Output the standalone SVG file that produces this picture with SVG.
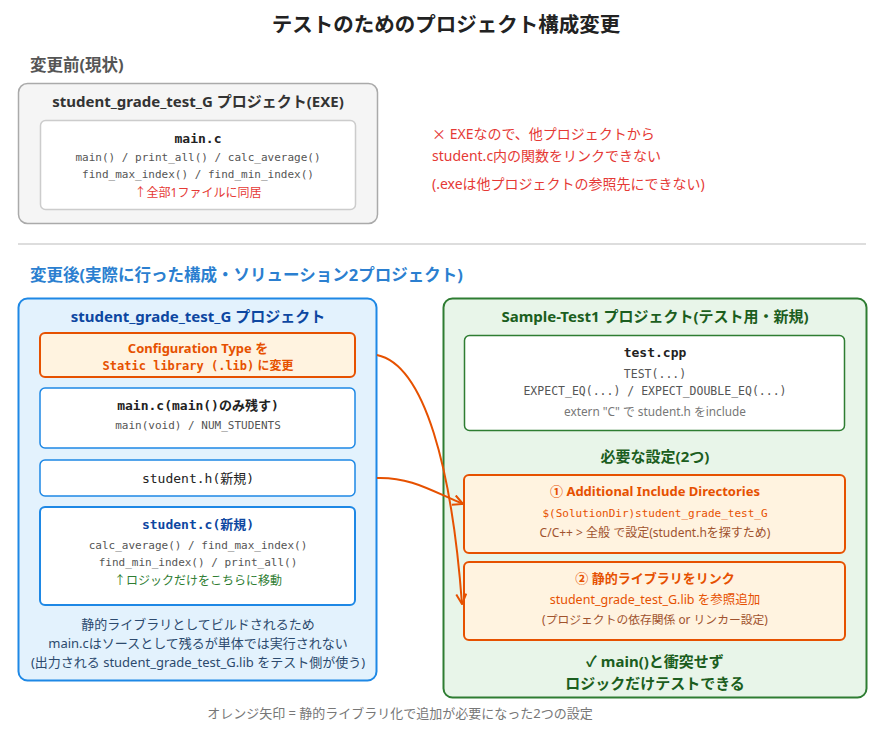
<svg xmlns="http://www.w3.org/2000/svg" width="892" height="732" viewBox="0 0 892 732">
<style>
text{font-family:"Noto Sans","Noto Sans CJK JP",sans-serif;}
.m{font-family:"DejaVu Sans Mono","Liberation Mono","Noto Sans CJK JP",monospace;}
.cjk{font-family:"Noto Sans CJK JP",sans-serif;}
.c{text-anchor:middle;}
.b{font-weight:bold;}
.title{font-size:20.5px;font-weight:bold;fill:#222;}
.sec{font-size:16.5px;font-weight:bold;}
.h{font-size:15px;font-weight:bold;}
.s11{font-size:11px;}
.s12{font-size:12px;}
.s13{font-size:13px;}
.s14{font-size:14px;}
.gray{fill:#555;}
.or{fill:#e65100;}
.brn{fill:#a0522d;}
.gr{fill:#1b5e20;}
.bl{fill:#0d47a1;}
.red{fill:#e53935;}
.wbox{fill:#fff;}
.obox{fill:#fff3e0;stroke:#e65100;stroke-width:2;}
.conn{fill:none;stroke:#e65100;stroke-width:2;}
</style>
<defs>
<marker id="ah" viewBox="0 0 12 12" refX="11" refY="6" markerWidth="12" markerHeight="12" markerUnits="userSpaceOnUse" orient="auto">
<path d="M1,1 L11,6 L1,11" fill="none" stroke="#e65100" stroke-width="2"/>
</marker>
</defs>
<rect width="892" height="732" fill="#fff"/>
<text x="446" y="32" class="title c">テストのためのプロジェクト構成変更</text>

<text x="30" y="71" class="sec" fill="#555">変更前(現状)</text>
<g id="before">
<rect x="18.5" y="83.5" width="359" height="140" rx="9" fill="#f5f5f5" stroke="#aaa" stroke-width="1.5"/>
<text x="198" y="107" class="h c" fill="#333">student_grade_test_G プロジェクト(EXE)</text>
<g id="before-main">
<rect x="40.5" y="120.5" width="315" height="89" rx="5" class="wbox" stroke="#ccc" stroke-width="1.5"/>
<text x="198" y="143" class="m s13 b c" fill="#222">main.c</text>
<text x="198" y="161" class="m s11 c gray">main() / print_all() / calc_average()</text>
<text x="198" y="178" class="m s11 c gray">find_max_index() / find_min_index()</text>
<text x="198" y="197" class="s12 c red">↑全部1ファイルに同居</text>
</g>
</g>
<g id="note">
<text x="432" y="139" class="s14 red"><tspan class="cjk">×</tspan> EXEなので、他プロジェクトから</text>
<text x="432" y="161" class="s14 red">student.c内の関数をリンクできない</text>
<text x="432" y="189" class="s14 red">(.exeは他プロジェクトの参照先にできない)</text>
</g>
<line x1="18" y1="244" x2="866" y2="244" stroke="#ddd" stroke-width="2"/>

<text x="30" y="281" class="sec" fill="#2b7fd0">変更後(実際に行った構成・ソリューション2プロジェクト)</text>
<g id="lib-project">
<rect x="18.5" y="298.5" width="358" height="382" rx="9" fill="#e3f2fd" stroke="#1e88e5" stroke-width="2"/>
<text x="198" y="322" class="h c bl">student_grade_test_G プロジェクト</text>
<g id="config">
<rect x="40" y="333" width="315" height="44" rx="5" class="obox"/>
<text x="198" y="353" class="s13 b c or">Configuration Type を</text>
<text x="198" y="370" class="s12 b c or"><tspan class="m">Static library (.lib)</tspan> に変更</text>
</g>
<g id="mainc">
<rect x="40" y="388" width="315" height="60" rx="5" class="wbox" stroke="#1e88e5" stroke-width="1.5"/>
<text x="198" y="410" class="m s13 b c" fill="#222">main.c(main()のみ残す)</text>
<text x="198" y="429" class="m s11 c gray">main(void) / NUM_STUDENTS</text>
</g>
<g id="studenth">
<rect x="40" y="460" width="315" height="36" rx="5" class="wbox" stroke="#1e88e5" stroke-width="1.5"/>
<text x="198" y="483" class="m s13 c" fill="#222">student.h(新規)</text>
</g>
<g id="studentc">
<rect x="40" y="507" width="315" height="98" rx="5" class="wbox" stroke="#1e88e5" stroke-width="2"/>
<text x="198" y="529" class="m s13 b c bl">student.c(新規)</text>
<text x="198" y="549" class="m s11 c gray">calc_average() / find_max_index()</text>
<text x="198" y="566" class="m s11 c gray">find_min_index() / print_all()</text>
<text x="198" y="585" class="s12 c" fill="#2e7d32">↑ロジックだけをこちらに移動</text>
</g>
<text x="198" y="629" class="s13 c" fill="#2c4a6e">静的ライブラリとしてビルドされるため</text>
<text x="198" y="648" class="s13 c" fill="#2c4a6e">main.cはソースとして残るが単体では実行されない</text>
<text x="198" y="667" class="s13 c" fill="#2c4a6e">(出力される student_grade_test_G.lib をテスト側が使う)</text>
</g>

<g id="test-project">
<rect x="443.5" y="298.5" width="423" height="399" rx="9" fill="#e8f5e9" stroke="#2e7d32" stroke-width="2"/>
<text x="655" y="322" class="h c gr">Sample-Test1 プロジェクト(テスト用・新規)</text>
<g id="testcpp">
<rect x="464.5" y="335.5" width="380" height="95" rx="5" class="wbox" stroke="#2e7d32" stroke-width="1.5"/>
<text x="655" y="357" class="m s13 b c" fill="#222">test.cpp</text>
<text x="655" y="378" class="m c gray" font-size="11.5">TEST(...)</text>
<text x="655" y="395" class="m c gray" font-size="11.5">EXPECT_EQ(...) / EXPECT_DOUBLE_EQ(...)</text>
<text x="655" y="416" class="c" font-size="11.8" fill="#777">extern "C" で student.h をinclude</text>
</g>
<text x="655" y="462" class="h c gr">必要な設定(2つ)</text>
<g id="setting1">
<rect x="464" y="475" width="381" height="78" rx="5" class="obox"/>
<text x="655" y="496" class="s13 b c or">① Additional Include Directories</text>
<text x="655" y="517" class="m s11 c or">$(SolutionDir)student_grade_test_G</text>
<text x="655" y="537" class="c brn" font-size="12">C/C++ &gt; 全般 で設定(student.hを探すため)</text>
</g>
<g id="setting2">
<rect x="464" y="562" width="381" height="78" rx="5" class="obox"/>
<text x="655" y="583" class="s13 b c or">② 静的ライブラリをリンク</text>
<text x="655" y="604" class="c or" font-size="12.5">student_grade_test_G.lib を参照追加</text>
<text x="655" y="624" class="c brn" font-size="11.8">(プロジェクトの依存関係 or リンカー設定)</text>
</g>
<text x="655" y="667" class="h c gr">✓ main()と衝突せず</text>
<text x="655" y="689" class="h c gr">ロジックだけテストできる</text>
</g>

<g id="connectors">
<path class="conn" d="M377,355 C425,365 452,470 462,604" marker-end="url(#ah)"/>
<path class="conn" d="M377,478 C410,477 430,490 463,504" marker-end="url(#ah)"/>
</g>

<text x="400" y="718" class="s13 c" fill="#777">オレンジ矢印 = 静的ライブラリ化で追加が必要になった2つの設定</text>
</svg>
